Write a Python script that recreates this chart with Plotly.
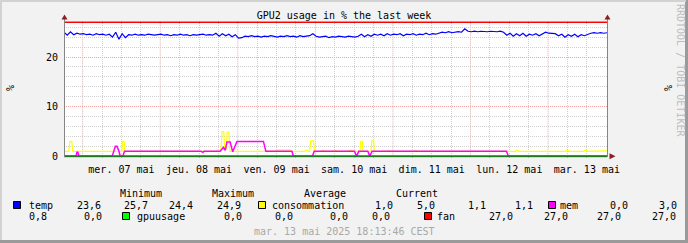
import plotly.graph_objects as go
import pandas as pd

# ---------------- data ----------------
start = pd.Timestamp("2025-05-06 18:13:46")
end = pd.Timestamp("2025-05-13 18:13:46")

# temp: hourly samples from start (h = 0 .. 168)
temp_values = [
    25.0, 24.4, 25.1, 24.5, 24.8, 24.6, 24.7, 24.5, 24.6, 24.4, 24.7, 24.5, 24.6, 24.4, 24.6,
    24.0, 25.0, 23.6, 24.7, 23.9,
    24.5, 24.4, 24.6, 24.4, 24.5, 24.4, 24.6, 24.5, 24.4, 24.5, 24.6, 24.4, 24.5, 24.3,
    24.5, 24.4, 24.6, 24.4, 24.5, 24.3, 24.5, 24.4, 24.5, 24.6, 24.4, 24.5, 24.4,
    24.8, 24.2, 24.7, 24.3, 24.6, 24.1, 24.5,
    23.8, 23.9,
    24.2, 24.1, 24.3, 24.1, 24.2, 24.0, 24.2, 24.1, 24.3, 24.2, 24.0, 24.2, 24.1, 24.3,
    24.1, 24.2, 24.0, 24.3, 24.1, 24.2, 24.3,
    24.7,
    24.2, 24.0, 24.1, 24.2, 23.9, 24.1, 24.0, 24.2, 24.1, 24.0, 24.2, 24.1, 24.0, 24.2,
    24.6, 24.1, 24.5, 24.2, 24.6,
    24.4, 24.6, 24.3, 24.7, 24.4, 24.6, 24.5, 24.7, 24.3, 24.6, 24.5, 24.7, 24.4, 24.6,
    24.5, 24.8, 24.5, 24.7, 24.6, 24.8,
    25.0, 24.9, 25.1, 24.9, 25.0, 25.1, 25.0,
    25.7,
    25.2, 25.1, 25.2, 25.1, 25.2, 25.1, 25.1, 25.2, 25.1, 25.1, 25.2, 25.0,
    24.4, 24.8, 24.2, 24.7, 24.3, 24.8, 24.2, 24.6, 24.4, 24.7, 24.3, 24.6,
    25.0,
    24.8, 24.7, 24.7,
    24.3, 24.6, 24.0, 24.5, 24.2, 24.6, 24.1, 24.5, 24.3, 24.6,
    24.8, 24.9, 24.8, 24.9, 24.8, 24.9,
]

# consommation: breakpoints (hours after start, value)
cons_hours = [
    0, 1.5, 1.8, 2.4, 2.7,
    17.9, 18.1, 18.6, 18.8,
    48.4, 48.6, 48.9, 49.4, 49.7, 50.3, 50.5, 51.0, 51.3,
    65.5, 65.8, 70.0, 70.3,
    74.5, 74.8, 75.3, 75.6,
    76.0, 76.3, 77.2, 77.5,
    79.8, 80.0, 80.4, 80.6,
    83.6, 83.8, 84.2, 84.4,
    88.0, 88.2, 89.2, 89.4,
    91.6, 91.8, 92.3, 92.5,
    95.0, 95.2, 95.8, 96.0,
    100.0, 100.2, 100.6, 100.8,
    108.4, 108.6, 109.0, 109.2,
    139.8, 140.0, 140.4, 140.6,
    155.3, 155.5, 155.9, 156.1,
    160.8, 161.0, 161.6, 161.8,
    168.0,
]
cons_values = [
    1.0, 1.0, 3.0, 3.0, 1.0,
    1.0, 3.0, 3.0, 1.0,
    1.0, 1.6, 5.0, 5.0, 1.6, 1.6, 4.9, 4.9, 1.0,
    1.0, 1.3, 1.3, 1.0,
    1.0, 1.2, 1.2, 1.0,
    1.0, 3.1, 3.1, 1.0,
    1.0, 1.2, 1.2, 1.0,
    1.0, 1.2, 1.2, 1.0,
    1.0, 1.2, 1.2, 1.0,
    1.0, 3.0, 3.0, 1.0,
    1.0, 3.1, 3.1, 1.0,
    1.0, 1.2, 1.2, 1.0,
    1.0, 1.2, 1.2, 1.0,
    1.0, 1.2, 1.2, 1.0,
    1.0, 1.2, 1.2, 1.0,
    1.0, 1.2, 1.2, 1.0,
    1.1,
]

# mem: breakpoints (hours after start, value)
mem_hours = [
    0, 3.7, 4.0, 4.3, 4.6,
    14.9, 15.9, 16.4, 17.0, 17.4, 18.2, 18.7,
    42.4, 42.7, 43.0, 43.3,
    48.3, 49.35, 49.9, 50.4, 51.4, 52.2, 53.5, 61.7, 62.45,
    70.5, 71.0, 76.85, 77.4,
    89.9, 90.5, 91.2, 94.0, 94.6, 95.3,
    136.9, 137.5, 168.0,
]
mem_values = [
    0.0, 0.0, 0.8, 0.8, 0.0,
    0.0, 2.0, 2.0, 1.0, 0.0, 0.0, 1.0,
    1.0, 0.8, 0.8, 1.0,
    1.0, 1.8, 1.2, 2.9, 2.9, 0.9, 3.0, 3.0, 1.0,
    1.0, 0.0, 0.0, 1.0,
    1.0, 0.0, 1.0, 1.0, 0.0, 1.0,
    1.0, 0.0, 0.0,
]

gpuusage_values = [0.0, 0.0]
fan_values = [27.0, 27.0]

day_labels = ["mer. 07 mai", "jeu. 08 mai", "ven. 09 mai", "sam. 10 mai",
              "dim. 11 mai", "lun. 12 mai", "mar. 13 mai"]
y_ticks = [0, 10, 20]

legend_header = ["Minimum", "Maximum", "Average", "Current"]
series_names = ["temp", "consommation", "mem", "gpuusage", "fan"]
series_colors = ["#0000FF", "#FFFF00", "#FF00FF", "#00FF00", "#FF0000"]
stat_min = ["23,6", "1,0", "0,0", "0,0", "27,0"]
stat_max = ["25,7", "5,0", "3,0", "0,0", "27,0"]
stat_avg = ["24,4", "1,1", "0,8", "0,0", "27,0"]
stat_cur = ["24,9", "1,1", "0,0", "0,0", "27,0"]
timestamp_text = "mar. 13 mai 2025 18:13:46 CEST"

# ---------------- figure ----------------
def hours_to_time(hs):
    return [start + pd.Timedelta(hours=h) for h in hs]

temp_times = hours_to_time(range(len(temp_values)))
FONT = "DejaVu Sans Mono"

fig = go.Figure()
fig.add_trace(go.Scatter(x=temp_times, y=temp_values, mode="lines",
                         line=dict(color=series_colors[0], width=1.2)))
fig.add_trace(go.Scatter(x=hours_to_time(cons_hours), y=cons_values, mode="lines",
                         line=dict(color=series_colors[1], width=1.2)))
fig.add_trace(go.Scatter(x=hours_to_time(mem_hours), y=mem_values, mode="lines",
                         line=dict(color=series_colors[2], width=1.5)))
fig.add_trace(go.Scatter(x=[start, end], y=gpuusage_values, mode="lines",
                         line=dict(color="#1E7A1E", width=2)))
fig.add_trace(go.Scatter(x=[start, end], y=fan_values, mode="lines",
                         line=dict(color=series_colors[4], width=1.6)))

midnights = pd.date_range("2025-05-07", "2025-05-13", freq="D")
noons = midnights + pd.Timedelta(hours=12)
quarter = pd.date_range("2025-05-07 06:00", "2025-05-13 18:00", freq="6h")
minor_x = [t for t in quarter if t.hour in (6, 18)]

# plot area geometry (pixels)
L, R, T, B = 64, 607, 21, 158
W, H = 688, 243
PX_PER_UNIT = 4.963
y_lo = -(B - 156.3) / PX_PER_UNIT
y_hi = 27 + (22.3 - T) / PX_PER_UNIT

def px(x):
    return (x - L) / (R - L)

def py(y):
    return (B - y) / (B - T)

GRID_GRAY = "#CFCFCF"
GRID_RED = "#F3A3A3"
DASH = "1px,1px"

fig.update_layout(
    width=W, height=H,
    margin=dict(l=L, r=W - R, t=T, b=H - B),
    paper_bgcolor="#F2F2F2", plot_bgcolor="#FFFFFF",
    showlegend=False,
    font=dict(family=FONT, size=10, color="#000000"),
    title=dict(text="GPU2 usage in % the last week", x=0.5, xref="container",
               xanchor="center", y=1 - 15.5 / H, yref="container", yanchor="middle",
               font=dict(family=FONT, size=10, color="#000000")),
    xaxis=dict(type="date", range=[start, end], tickmode="array",
               tickvals=list(noons), ticktext=day_labels, ticks="",
               ticklabelstandoff=4,
               showgrid=True, gridcolor=GRID_GRAY, griddash=DASH, gridwidth=1,
               minor=dict(tickvals=minor_x, showgrid=True, gridcolor=GRID_GRAY,
                          griddash=DASH, gridwidth=1, ticks=""),
               showline=False, zeroline=False, fixedrange=True),
    yaxis=dict(range=[y_lo, y_hi], tickmode="array", tickvals=y_ticks,
               ticktext=[str(v) for v in y_ticks], ticks="", ticklabelstandoff=5,
               showgrid=True, gridcolor=GRID_RED, griddash=DASH, gridwidth=1,
               minor=dict(tickvals=[v for v in range(2, 27, 2) if v % 10 != 0],
                          showgrid=True, gridcolor=GRID_GRAY, griddash=DASH,
                          gridwidth=1, ticks=""),
               showline=False, zeroline=False, fixedrange=True),
    yaxis2=dict(overlaying="y", side="right", range=[y_lo, y_hi], tickmode="array",
                tickvals=y_ticks,
                ticktext=[str(v).rjust(2, "\u00a0") for v in y_ticks],
                ticks="", ticklabelstandoff=25, showgrid=False, showline=False,
                zeroline=False, fixedrange=True),
)

shapes = []
# midnight (major) vertical grid lines
for t in midnights:
    shapes.append(dict(type="line", xref="x", yref="paper", x0=t, x1=t,
                       y0=py(156.3), y1=1, layer="below",
                       line=dict(color=GRID_RED, width=1, dash=DASH)))
AXIS = "#858585"
ARROW = "#8B1E1E"
# axes
shapes.append(dict(type="line", xref="paper", yref="paper", x0=px(64.5), x1=px(64.5),
                   y0=py(157), y1=py(18), line=dict(color=AXIS, width=1)))
shapes.append(dict(type="line", xref="paper", yref="paper", x0=px(607.5), x1=px(607.5),
                   y0=py(157), y1=py(18), line=dict(color=AXIS, width=1)))
# arrows
def tri(x1, y1, x2, y2, x3, y3):
    return (f"M {px(x1)} {py(y1)} L {px(x2)} {py(y2)} L {px(x3)} {py(y3)} Z")
shapes.append(dict(type="path", xref="paper", yref="paper",
                   path=tri(64.5, 14.5, 61.5, 19.5, 67.5, 19.5),
                   fillcolor=ARROW, line=dict(width=0)))
shapes.append(dict(type="path", xref="paper", yref="paper",
                   path=tri(607.5, 14.5, 604.5, 19.5, 610.5, 19.5),
                   fillcolor=ARROW, line=dict(width=0)))
shapes.append(dict(type="path", xref="paper", yref="paper",
                   path=tri(615.5, 156.3, 609.5, 153.3, 609.5, 159.3),
                   fillcolor=ARROW, line=dict(width=0)))
# outer frame
shapes.append(dict(type="line", xref="paper", yref="paper", x0=px(0), x1=px(688),
                   y0=py(241.5), y1=py(241.5), line=dict(color="#9A9A9A", width=3)))
shapes.append(dict(type="line", xref="paper", yref="paper", x0=px(686.5), x1=px(686.5),
                   y0=py(0), y1=py(243), line=dict(color="#9A9A9A", width=3)))
shapes.append(dict(type="line", xref="paper", yref="paper", x0=px(1), x1=px(1),
                   y0=py(0), y1=py(240), line=dict(color="#D2D2D2", width=2)))
shapes.append(dict(type="line", xref="paper", yref="paper", x0=px(0), x1=px(686),
                   y0=py(1), y1=py(1), line=dict(color="#D2D2D2", width=2)))

annotations = []

def text(s, x, y, anchor="left", color="#000000", angle=0, size=10):
    annotations.append(dict(text=s, x=px(x), y=py(y), xref="paper", yref="paper",
                            xanchor=anchor, yanchor="middle", showarrow=False,
                            textangle=angle,
                            font=dict(family=FONT, size=size, color=color)))

def box(x, y, color):
    shapes.append(dict(type="rect", xref="paper", yref="paper",
                       x0=px(x), x1=px(x + 7), y0=py(y + 3.5), y1=py(y - 3.5),
                       fillcolor=color, line=dict(color="#000000", width=1)))

# unit labels and watermark
text("%", 10, 88, anchor="center", angle=-90)
text("%", 668, 88, anchor="center", angle=-90)
text("RRDTOOL / TOBI OETIKER", 681, 70, anchor="center", color="#BDBDBD", angle=90)

# legend header
for s, x in zip(legend_header, [118, 210, 302, 394]):
    text(s, x, 193)

# legend rows (positions as laid out by rrdtool)
r1, r2 = 205, 216
box(13.5, r1, series_colors[0]); text(series_names[0], 26.5, r1)
text(stat_min[0], 75, r1); text(stat_max[0], 121.5, r1)
text(stat_avg[0], 166.5, r1); text(stat_cur[0], 215, r1)
box(258.5, r1, series_colors[1]); text(series_names[1], 270, r1)
text(stat_min[1], 373, r1); text(stat_max[1], 415, r1)
text(stat_avg[1], 466, r1); text(stat_cur[1], 513, r1)
box(548.5, r1, series_colors[2]); text(series_names[2], 558, r1)
text(stat_min[2], 608, r1); text(stat_max[2], 657, r1)
text(stat_avg[2], 26.5, r2); text(stat_cur[2], 81.5, r2)
box(122.5, r2, series_colors[3]); text(series_names[3], 135, r2)
text(stat_min[3], 221.5, r2); text(stat_max[3], 273, r2)
text(stat_avg[3], 328, r2); text(stat_cur[3], 370, r2)
box(424.5, r2, series_colors[4]); text(series_names[4], 435, r2)
text(stat_min[4], 486.5, r2); text(stat_max[4], 541.5, r2)
text(stat_avg[4], 595, r2); text(stat_cur[4], 650, r2)

text(timestamp_text, 344, 231, anchor="center", color="#A8A8A8")

fig.update_layout(shapes=shapes, annotations=annotations)
fig.write_html("out.html")
